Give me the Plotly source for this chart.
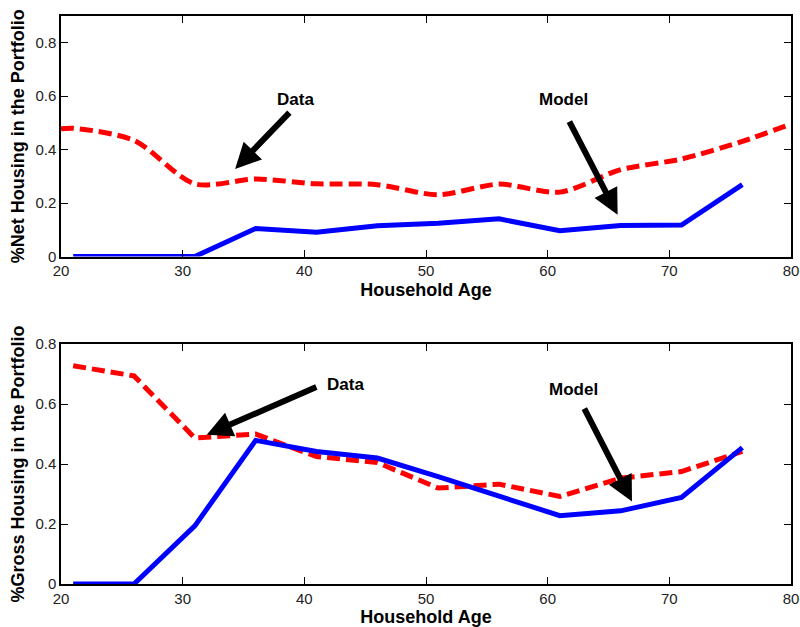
import plotly.graph_objects as go

# ---------------- data ----------------
ages = [21, 26, 31, 36, 41, 46, 51, 56, 61, 66, 71, 76]

net_model = [0.0, 0.0, 0.0, 0.105, 0.091, 0.115, 0.125, 0.141, 0.097, 0.116, 0.118, 0.269]
net_data_ages = [20, 21, 26, 31, 36, 41, 46, 51, 56, 61, 66, 71, 76, 80]
net_data = [0.478, 0.48, 0.435, 0.272, 0.29, 0.272, 0.269, 0.231, 0.271, 0.241, 0.325, 0.365, 0.431, 0.496]

gross_model = [0.0, 0.0, 0.194, 0.479, 0.442, 0.42, 0.358, 0.293, 0.228, 0.244, 0.289, 0.455]
gross_data = [0.728, 0.694, 0.487, 0.50, 0.425, 0.405, 0.32, 0.333, 0.292, 0.353, 0.375, 0.442]

x_ticks = [20, 30, 40, 50, 60, 70, 80]
y_ticks = [0, 0.2, 0.4, 0.6, 0.8]
y_tick_text = ["0", "0.2", "0.4", "0.6", "0.8"]

BLUE = "#0000ff"
RED = "#ff0000"
FONT = "Liberation Sans, Arial, Helvetica, sans-serif"

fig = go.Figure()

# top panel
fig.add_trace(go.Scatter(x=ages, y=net_model, mode="lines", xaxis="x", yaxis="y",
                         line=dict(color=BLUE, width=5), showlegend=False))
fig.add_trace(go.Scatter(x=net_data_ages, y=net_data, mode="lines", xaxis="x", yaxis="y",
                         line=dict(color=RED, width=5, dash="13px,6px", shape="spline", smoothing=0.8),
                         showlegend=False))
# bottom panel
fig.add_trace(go.Scatter(x=ages, y=gross_data, mode="lines", xaxis="x2", yaxis="y2",
                         line=dict(color=RED, width=5, dash="13px,6px"), showlegend=False))
fig.add_trace(go.Scatter(x=ages, y=gross_model, mode="lines", xaxis="x2", yaxis="y2",
                         line=dict(color=BLUE, width=5), showlegend=False))

axis_common = dict(
    showline=True, linecolor="black", linewidth=1.5, mirror="ticks",
    ticks="inside", ticklen=7, tickwidth=1.2, tickcolor="black",
    showgrid=False, zeroline=False, automargin=False,
    tickfont=dict(family=FONT, size=15, color="#222222"),
)

title_font = dict(family=FONT, size=18, color="black")

fig.update_layout(
    width=800, height=627,
    margin=dict(l=61, r=9, t=16, b=43),
    paper_bgcolor="white", plot_bgcolor="white",
    font=dict(family=FONT),
    hovermode=False,
    xaxis=dict(axis_common, domain=[0, 1], anchor="y", range=[20, 80], tickvals=x_ticks,
               title=dict(text="<b>Household Age</b>", font=title_font, standoff=5)),
    yaxis=dict(axis_common, domain=[0.5765, 1], anchor="x", range=[0, 0.9], tickvals=y_ticks, ticktext=y_tick_text,
               title=dict(text="<b>%Net Housing in the Portfolio</b>", font=title_font, standoff=6)),
    xaxis2=dict(axis_common, domain=[0, 1], anchor="y2", range=[20, 80], tickvals=x_ticks,
                title=dict(text="<b>Household Age</b>", font=title_font, standoff=5)),
    yaxis2=dict(axis_common, domain=[0, 0.4223], anchor="x2", range=[0, 0.8], tickvals=y_ticks, ticktext=y_tick_text,
                title=dict(text="<b>%Gross Housing in the Portfolio</b>", font=title_font, standoff=6)),
)

label_font = dict(family=FONT, size=17, color="black")

def add_label(text, x, y, xref, yref):
    fig.add_annotation(text="<b>%s</b>" % text, x=x, y=y, xref=xref, yref=yref,
                       showarrow=False, font=label_font)

def add_arrow(x0, y0, x1, y1, xref, yref):
    fig.add_annotation(text="", x=x1, y=y1, ax=x0, ay=y0, xref=xref, yref=yref,
                       axref=xref, ayref=yref, showarrow=True, arrowhead=2,
                       arrowsize=0.85, arrowwidth=6, arrowcolor="black", standoff=0)

# top panel annotations
add_label("Data", 39.24, 0.588, "x", "y")
add_arrow(38.89, 0.544, 34.31, 0.328, "x", "y")
add_label("Model", 61.3, 0.588, "x", "y")
add_arrow(61.72, 0.51, 65.75, 0.156, "x", "y")

# bottom panel annotations
add_label("Data", 43.36, 0.664, "x2", "y2")
add_arrow(41.11, 0.659, 31.98, 0.498, "x2", "y2")
add_label("Model", 62.13, 0.648, "x2", "y2")
add_arrow(62.95, 0.59, 66.93, 0.275, "x2", "y2")

# remove the default page margin so the 800x627 figure fills the window exactly
fig.write_html("out.html", config={"displayModeBar": False},
               post_script="document.body.style.margin='0';")
